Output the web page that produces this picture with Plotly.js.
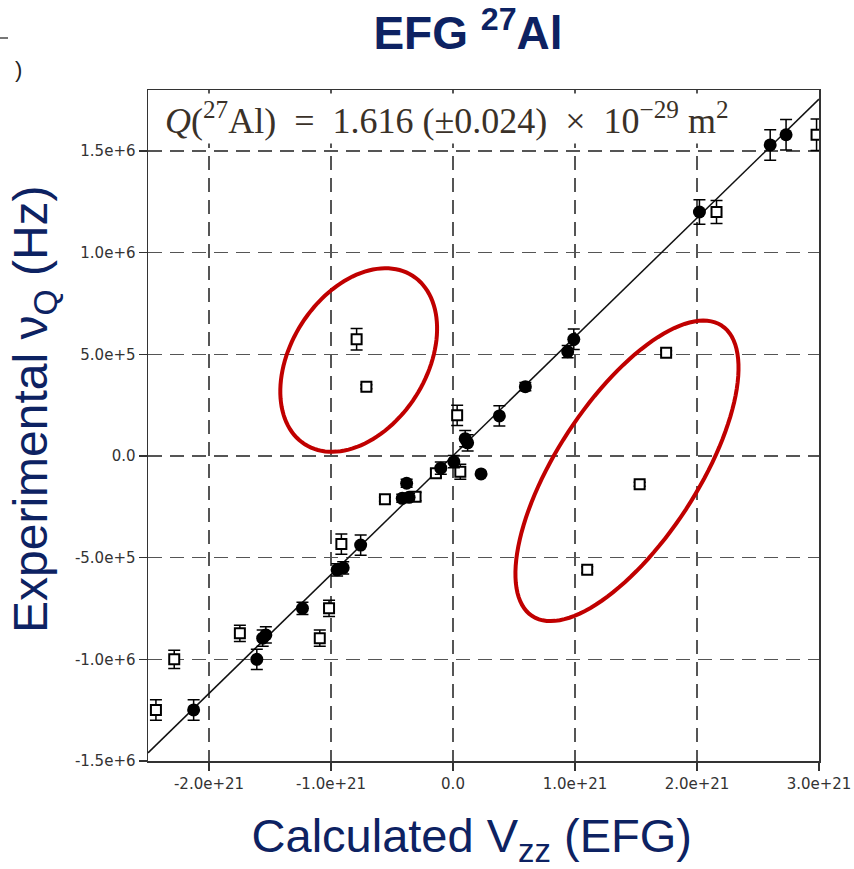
<!DOCTYPE html>
<html>
<head>
<meta charset="utf-8">
<script src="https://cdn.plot.ly/plotly-3.0.1.min.js"></script>
<style>html,body{margin:0;padding:0;background:#fff;}#chart{width:854px;height:869px;}</style>
</head>
<body>
<div id="chart"></div>
<script>
// ---- Data ----
// Filled circles (good agreement set)
const filledX = [2.60e21, 2.73e21, 2.02e21, 0.99e21, 0.94e21, 0.593e21, 0.38e21, 0.10e21, 0.12e21, 0.23e21, 0.007e21, -0.10e21, -0.38e21, -0.416e21, -0.36e21, -0.757e21, -0.95e21, -0.90e21, -1.234e21, -1.534e21, -1.56e21, -1.608e21, -2.126e21];
const filledY = [1.53e6, 1.58e6, 1.20e6, 0.574e6, 0.513e6, 0.341e6, 0.197e6, 0.085e6, 0.065e6, -0.088e6, -0.028e6, -0.06e6, -0.134e6, -0.208e6, -0.203e6, -0.438e6, -0.56e6, -0.55e6, -0.749e6, -0.88e6, -0.896e6, -1.0e6, -1.249e6];
const filledErr = [0.075e6, 0.075e6, 0.06e6, 0.05e6, 0.03e6, 0.02e6, 0.05e6, 0.04e6, 0.04e6, 0, 0.03e6, 0.03e6, 0.02e6, 0.02e6, 0.02e6, 0.05e6, 0.03e6, 0.03e6, 0.03e6, 0.04e6, 0.04e6, 0.05e6, 0.05e6];

// Open squares
const openX = [2.98e21, 2.16e21, 1.747e21, 1.53e21, 1.10e21, -0.79e21, -0.71e21, 0.034e21, -0.14e21, 0.06e21, -0.558e21, -0.307e21, -0.915e21, -1.016e21, -1.092e21, -1.747e21, -2.285e21, -2.435e21];
const openY = [1.58e6, 1.20e6, 0.508e6, -0.139e6, -0.56e6, 0.574e6, 0.341e6, 0.20e6, -0.085e6, -0.077e6, -0.213e6, -0.20e6, -0.433e6, -0.749e6, -0.896e6, -0.872e6, -1.0e6, -1.249e6];
const openErr = [0.077e6, 0.057e6, 0.01e6, 0.01e6, 0.015e6, 0.053e6, 0.01e6, 0.05e6, 0.02e6, 0.037e6, 0.01e6, 0.02e6, 0.05e6, 0.04e6, 0.04e6, 0.04e6, 0.045e6, 0.05e6];

// Fitted line end points
const fitX = [-2.5e21, 3.0e21];
const fitY = [-1.46e6, 1.755e6];

// Tick labels
const xTickVals = [-2e21, -1e21, 0, 1e21, 2e21, 3e21];
const xTickText = ["-2.0e+21", "-1.0e+21", "0.0", "1.0e+21", "2.0e+21", "3.0e+21"];
const yTickVals = [1.5e6, 1.0e6, 5e5, 0, -5e5, -1.0e6, -1.5e6];
const yTickText = ["1.5e+6", "1.0e+6", "5.0e+5", "0.0", "-5.0e+5", "-1.0e+6", "-1.5e+6"];

// ---- Layout constants ----
const W = 854, H = 869;
const M = {l: 148, r: 35, t: 90, b: 108};
const xRange = [-2.5e21, 3.0e21];
const yRange = [-1.5e6, 1.8e6];
const navy = '#0d2262';
const EN = '\u2002';
const ZW = '\u200B';

// Highlight ellipses: center in data units, semi-axes in pixels, tilt in degrees
function ellipsePath(cx, cy, aPx, bPx, angDeg) {
  const pw = W - M.l - M.r, ph = H - M.t - M.b;
  const sx = (xRange[1] - xRange[0]) / pw, sy = (yRange[1] - yRange[0]) / ph;
  const phi = angDeg * Math.PI / 180;
  let d = '';
  for (let i = 0; i <= 120; i++) {
    const t = i / 120 * 2 * Math.PI;
    const dx = aPx * Math.cos(t) * Math.cos(phi) - bPx * Math.sin(t) * Math.sin(phi);
    const dy = aPx * Math.cos(t) * Math.sin(phi) + bPx * Math.sin(t) * Math.cos(phi);
    d += (i === 0 ? 'M' : 'L') + (cx + dx * sx) + ',' + (cy + dy * sy);
  }
  return d + 'Z';
}

const traces = [
  {x: fitX, y: fitY, mode: 'lines', line: {color: '#111', width: 1.5}, showlegend: false, hoverinfo: 'skip'},
  {x: openX, y: openY, mode: 'markers', showlegend: false,
   marker: {symbol: 'square', size: 10, color: '#fff', line: {color: '#000', width: 2}},
   error_y: {type: 'data', array: openErr, visible: true, color: '#000', thickness: 1.5, width: 6}},
  {x: filledX, y: filledY, mode: 'markers', showlegend: false,
   marker: {symbol: 'circle', size: 13, color: '#000'},
   error_y: {type: 'data', array: filledErr, visible: true, color: '#000', thickness: 1.5, width: 6}}
];

const axisCommon = {
  showline: true, mirror: true, linecolor: '#333', linewidth: 1.5,
  showgrid: true, gridcolor: '#555', gridwidth: 1.5, griddash: '14px,8px',
  zeroline: false, ticks: 'outside', ticklen: 8, tickwidth: 1.5, tickcolor: '#333',
  tickfont: {family: 'DejaVu Sans', size: 15, color: '#333'}, tickmode: 'array'
};

const layout = {
  width: W, height: H, autosize: false, margin: M,
  paper_bgcolor: '#fff', plot_bgcolor: '#fff',
  title: {text: '<b>EFG <sup>27</sup>Al</b>', font: {family: 'Liberation Sans, Arial', size: 46, color: navy},
          x: 468 / W, xanchor: 'center', xref: 'container', y: 0.9805, yanchor: 'top', yref: 'container'},
  xaxis: Object.assign({}, axisCommon, {range: xRange, tickvals: xTickVals, ticktext: xTickText,
          title: {text: 'Calculated V<sub>zz</sub> (EFG)' + EN + ZW, font: {family: 'Liberation Sans, Arial', size: 47, color: navy}, standoff: 30}}),
  yaxis: Object.assign({}, axisCommon, {range: yRange, tickvals: yTickVals, ticktext: yTickText}),
  shapes: [
    {type: 'path', xref: 'x', yref: 'y', path: ellipsePath(-0.773e21, 0.472e6, 100, 67.6, 57.4), line: {color: '#c00000', width: 4}},
    {type: 'path', xref: 'x', yref: 'y', path: ellipsePath(1.426e21, -0.073e6, 173.4, 70.4, 56.9), line: {color: '#c00000', width: 4}},
    {type: 'line', xref: 'paper', yref: 'paper', x0: -148 / 671, x1: -140 / 671, y0: (761 - 38) / 671, y1: (761 - 38) / 671, line: {color: '#777', width: 2}}
  ],
  annotations: [
    // y-axis title
    {xref: 'paper', yref: 'paper', x: (34 - 148) / 671, y: (761 - 409) / 671, xanchor: 'center', yanchor: 'middle', showarrow: false,
     textangle: -90, text: 'Experimental ν<sub>Q</sub> (Hz)',
     font: {family: 'Liberation Sans, Arial', size: 48, color: navy}},
    {xref: 'paper', yref: 'paper', x: 14 / 671, y: 0.957, xanchor: 'left', yanchor: 'middle', showarrow: false,
     text: '<i>Q</i>(<sup>27</sup>Al)' + EN + '=' + EN + '1.616 (±0.024)' + EN + '×' + EN + '10<sup>−29</sup> m<sup>2</sup>',
     font: {family: 'Liberation Serif, Times New Roman', size: 36, color: '#3a3128'}, bgcolor: '#fff', borderpad: 2},
    {xref: 'paper', yref: 'paper', x: -130 / 671, y: (761 - 70) / 671, xanchor: 'center', yanchor: 'middle', showarrow: false,
     text: ')', font: {family: 'Liberation Sans', size: 22, color: '#222'}}
  ]
};

Plotly.newPlot('chart', traces, layout, {displayModeBar: false, staticPlot: true});
</script>
</body>
</html>
